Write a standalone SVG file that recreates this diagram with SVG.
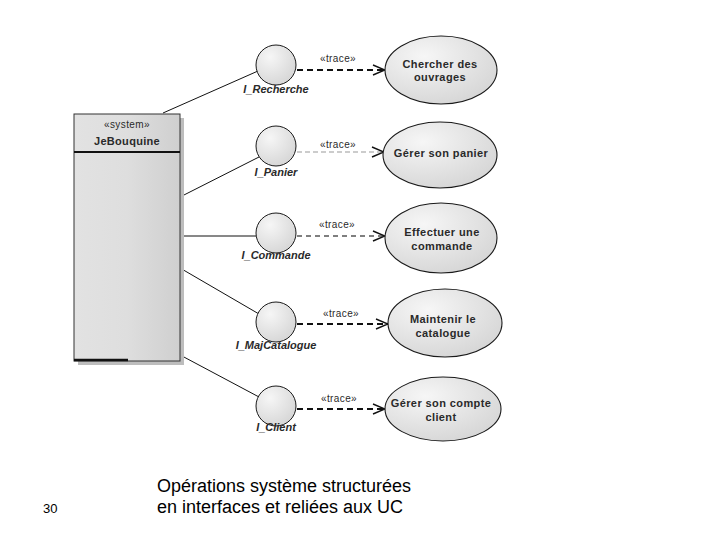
<svg xmlns="http://www.w3.org/2000/svg" width="720" height="540" viewBox="0 0 720 540">
<defs>
<linearGradient id="gBox" x1="0" y1="0" x2="1" y2="0">
<stop offset="0" stop-color="#e2e2e2"/>
<stop offset="0.5" stop-color="#dedede"/>
<stop offset="1" stop-color="#cfcfcf"/>
</linearGradient>
<radialGradient id="gEl" cx="0.35" cy="0.3" r="0.8">
<stop offset="0" stop-color="#f6f6f6"/>
<stop offset="1" stop-color="#d4d4d4"/>
</radialGradient>
<marker id="open" viewBox="0 0 14 12" refX="13" refY="6" markerWidth="14" markerHeight="12" markerUnits="userSpaceOnUse" orient="auto">
<polyline points="1,1 13,6 1,11" fill="none" stroke="#111" stroke-width="1.4"/>
</marker>
</defs>
<style>
.t{font-family:"Liberation Sans",Arial,sans-serif;fill:#2a2a2a}
.lbl{font-size:11px;font-weight:bold;font-style:italic;text-anchor:middle}
.uc{font-size:11px;font-weight:bold;text-anchor:middle;letter-spacing:0.4px}
.st{font-size:10px;text-anchor:middle;letter-spacing:0.4px}
.iface{fill:url(#gEl);stroke:#1a1a1a;stroke-width:1}
.ucel{fill:url(#gEl);stroke:#1a1a1a;stroke-width:1.1}
.assoc{stroke:#111;stroke-width:1;fill:none}
.dep{stroke:#111;stroke-width:2.2;stroke-dasharray:6 4;fill:none}
.depl{stroke:#999;stroke-width:1;stroke-dasharray:5 3;fill:none}
.depm{stroke:#555;stroke-width:1.5;stroke-dasharray:5 4;fill:none}
.cap{font-family:"Liberation Sans",Arial,sans-serif;fill:#000}
</style>
<rect width="720" height="540" fill="#fff"/>

<g id="connectors">
<line class="assoc" x1="163" y1="113" x2="258" y2="71"/>
<line class="assoc" x1="180" y1="197" x2="259" y2="157"/>
<line class="assoc" x1="180" y1="236" x2="256" y2="236" stroke-width="1.6"/>
<line class="assoc" x1="180" y1="268" x2="259" y2="314"/>
<line class="assoc" x1="182" y1="356" x2="259" y2="397"/>
<line class="dep" x1="297" y1="70" x2="385" y2="70" marker-end="url(#open)"/>
<line class="depl" x1="297" y1="152" x2="384" y2="152" marker-end="url(#open)"/>
<line class="depm" x1="297" y1="236" x2="385" y2="236" marker-end="url(#open)"/>
<line class="dep" x1="297" y1="324" x2="388" y2="324" marker-end="url(#open)"/>
<line class="dep" x1="297" y1="409" x2="385" y2="409" marker-end="url(#open)"/>
<text class="t st" x="338" y="62">«trace»</text>
<text class="t st" x="338" y="148">«trace»</text>
<text class="t st" x="337" y="228">«trace»</text>
<text class="t st" x="341" y="317">«trace»</text>
<text class="t st" x="339" y="402">«trace»</text>
</g>

<g id="system">
<rect x="78" y="118" width="106" height="247" fill="#bdbdbd"/>
<rect x="74" y="114" width="106" height="247" fill="url(#gBox)" stroke="#333" stroke-width="1"/>
<line x1="74" y1="152" x2="180" y2="152" stroke="#111" stroke-width="2"/>
<line x1="74" y1="360" x2="128" y2="360" stroke="#111" stroke-width="2.5"/>
<text class="t st" x="127" y="128">«system»</text>
<text class="t" x="127" y="145" font-size="11" font-weight="bold" text-anchor="middle" letter-spacing="0.3">JeBouquine</text>
</g>

<g id="I_Recherche">
<circle class="iface" cx="276" cy="65" r="20"/>
<text class="t lbl" x="276" y="93">I_Recherche</text>
</g>
<g id="I_Panier">
<circle class="iface" cx="276" cy="146" r="20"/>
<text class="t lbl" x="276" y="176">I_Panier</text>
</g>
<g id="I_Commande">
<circle class="iface" cx="276" cy="233" r="20"/>
<text class="t lbl" x="276" y="259">I_Commande</text>
</g>
<g id="I_MajCatalogue">
<circle class="iface" cx="276" cy="322" r="20"/>
<text class="t lbl" x="276" y="349">I_MajCatalogue</text>
</g>
<g id="I_Client">
<circle class="iface" cx="276" cy="406" r="20"/>
<text class="t lbl" x="276" y="431">I_Client</text>
</g>

<g id="uc1">
<ellipse class="ucel" cx="441" cy="70" rx="56" ry="34"/>
<text class="t uc" x="440" y="68">Chercher des</text>
<text class="t uc" x="440" y="81">ouvrages</text>
</g>
<g id="uc2">
<ellipse class="ucel" cx="440" cy="155" rx="57" ry="33"/>
<text class="t uc" x="441" y="157">Gérer son panier</text>
</g>
<g id="uc3">
<ellipse class="ucel" cx="441" cy="238" rx="56" ry="35"/>
<text class="t uc" x="442" y="236">Effectuer une</text>
<text class="t uc" x="442" y="250">commande</text>
</g>
<g id="uc4">
<ellipse class="ucel" cx="445" cy="323" rx="57" ry="34"/>
<text class="t uc" x="443" y="323">Maintenir le</text>
<text class="t uc" x="443" y="337">catalogue</text>
</g>
<g id="uc5">
<ellipse class="ucel" cx="443" cy="409" rx="58" ry="32"/>
<text class="t uc" x="441" y="407">Gérer son compte</text>
<text class="t uc" x="441" y="421">client</text>
</g>

<g id="caption">
<text class="cap" x="43" y="513" font-size="13">30</text>
<text class="cap" x="157" y="492" font-size="18">Opérations système structurées</text>
<text class="cap" x="157" y="513" font-size="18">en interfaces et reliées aux UC</text>
</g>
</svg>
